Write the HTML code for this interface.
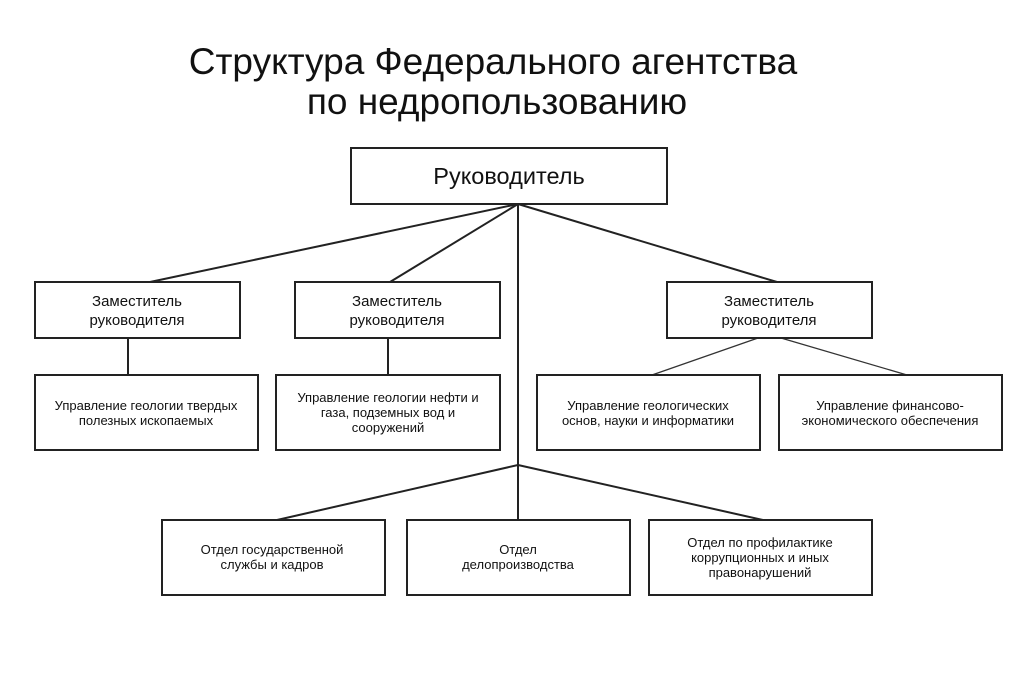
<!DOCTYPE html>
<html><head><meta charset="utf-8"><style>
html,body{margin:0;padding:0;background:#fff;}
svg{display:block;}
text{font-family:"Liberation Sans",sans-serif;fill:#111;}
</style></head><body>
<svg width="1024" height="683" viewBox="0 0 1024 683" xmlns="http://www.w3.org/2000/svg">
<rect width="1024" height="683" fill="#fff"/>
<text x="493" y="74" font-size="37" text-anchor="middle">Структура Федерального агентства</text>
<text x="497" y="114" font-size="37" text-anchor="middle">по недропользованию</text>
<g stroke="#222" stroke-width="2" fill="none">
<line x1="518" y1="204" x2="150" y2="282"/>
<line x1="518" y1="204" x2="390" y2="282"/>
<line x1="518" y1="204" x2="777" y2="282"/>
<line x1="518" y1="204" x2="518" y2="520"/>
<line x1="128" y1="338" x2="128" y2="375"/>
<line x1="388" y1="338" x2="388" y2="375"/>
<line x1="518" y1="465" x2="277" y2="520"/>
<line x1="518" y1="465" x2="763" y2="520"/>
</g>
<g stroke="#333" stroke-width="1.3">
<line x1="758" y1="338" x2="652" y2="375"/>
<line x1="781" y1="338" x2="907" y2="375"/>
</g>
<g stroke="#222" stroke-width="2" fill="#fff">
<rect x="351" y="148" width="316" height="56"/>
<rect x="35" y="282" width="205" height="56"/>
<rect x="295" y="282" width="205" height="56"/>
<rect x="667" y="282" width="205" height="56"/>
<rect x="35" y="375" width="223" height="75"/>
<rect x="276" y="375" width="224" height="75"/>
<rect x="537" y="375" width="223" height="75"/>
<rect x="779" y="375" width="223" height="75"/>
<rect x="162" y="520" width="223" height="75"/>
<rect x="407" y="520" width="223" height="75"/>
<rect x="649" y="520" width="223" height="75"/>
</g>
<text x="509" y="184" font-size="23.5" text-anchor="middle">Руководитель</text>
<g font-size="15" text-anchor="middle">
<text x="137" y="306">Заместитель</text><text x="137" y="325">руководителя</text>
<text x="397" y="306">Заместитель</text><text x="397" y="325">руководителя</text>
<text x="769" y="306">Заместитель</text><text x="769" y="325">руководителя</text>
</g>
<g font-size="13" text-anchor="middle">
<text x="146" y="410">Управление геологии твердых</text><text x="146" y="425">полезных ископаемых</text>
<text x="388" y="402">Управление геологии нефти и</text><text x="388" y="417">газа, подземных вод и</text><text x="388" y="432">сооружений</text>
<text x="648" y="410">Управление геологических</text><text x="648" y="425">основ, науки и информатики</text>
<text x="890" y="410">Управление финансово-</text><text x="890" y="425">экономического обеспечения</text>
<text x="272" y="554">Отдел государственной</text><text x="272" y="569">службы и кадров</text>
<text x="518" y="554">Отдел</text><text x="518" y="569">делопроизводства</text>
<text x="760" y="547">Отдел по профилактике</text><text x="760" y="562">коррупционных и иных</text><text x="760" y="577">правонарушений</text>
</g>
</svg>
</body></html>
